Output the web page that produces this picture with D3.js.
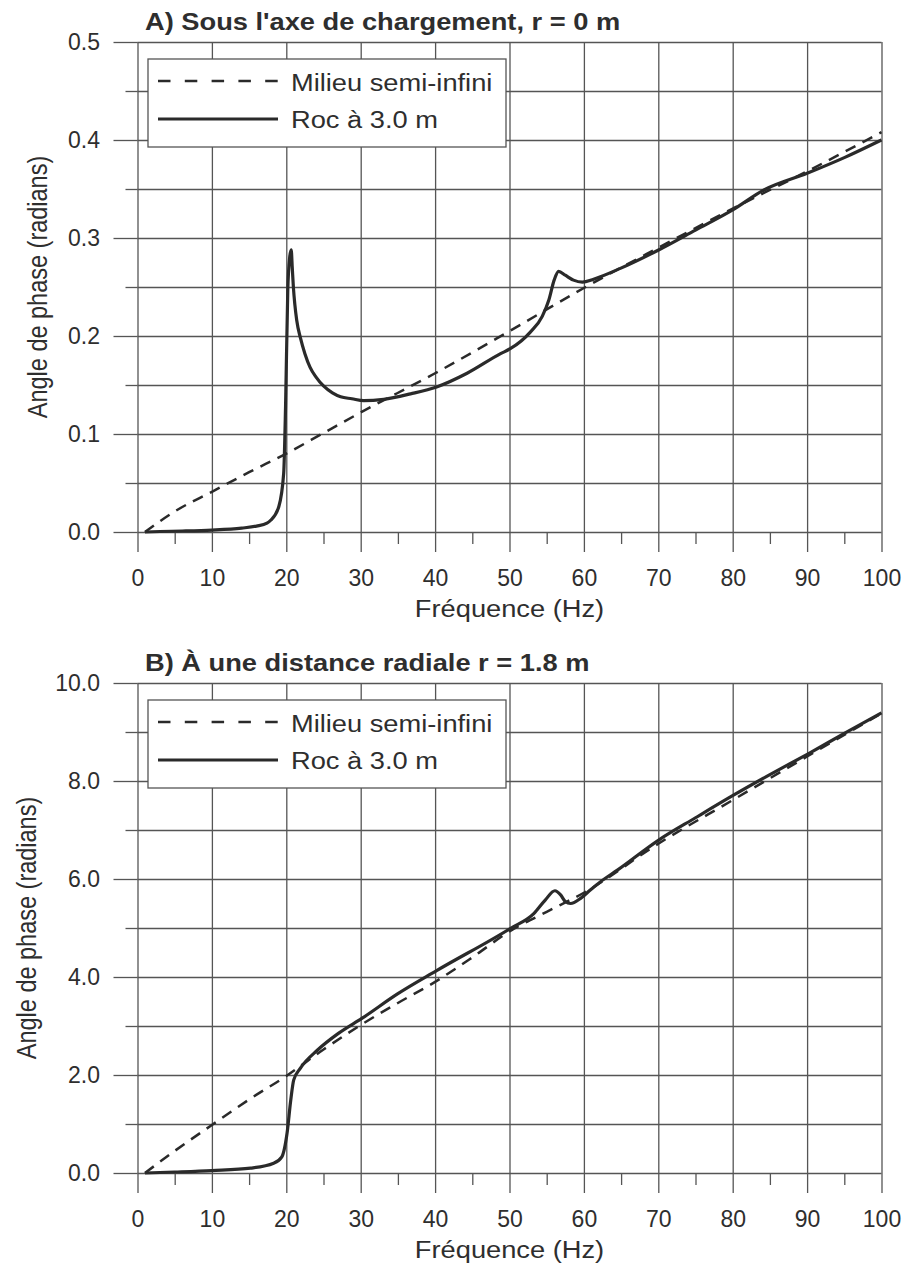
<!DOCTYPE html>
<html>
<head>
<meta charset="utf-8">
<script src="https://cdn.jsdelivr.net/npm/d3@7"></script>
<style>
  html, body { margin: 0; padding: 0; background: #fff; }
  svg { display: block; }
  text { font-family: "Liberation Sans", Arial, Helvetica, sans-serif; }
</style>
</head>
<body>
<svg id="chart" width="904" height="1265"></svg>
<script>
// ---- Frequency axis (Hz) ----
const freqTicks = [0, 10, 20, 30, 40, 50, 60, 70, 80, 90, 100];
const freqMinorTicks = [5, 15, 25, 35, 45, 55, 65, 75, 85, 95];
const freqLabel = "Fréquence (Hz)";
const phaseLabel = "Angle de phase (radians)";
const seriesNames = ["Milieu semi-infini", "Roc à 3.0 m"];

// ---- Panel A : under the loading axis, r = 0 m ----
const titleA = "A) Sous l'axe de chargement, r = 0 m";
const phaseTicksA = [0, 0.1, 0.2, 0.3, 0.4, 0.5];
const phaseMinorTicksA = [0.05, 0.15, 0.25, 0.35, 0.45];
const freqA_semi = [1, 5, 10, 15, 20, 25, 30, 40, 50, 60, 70, 80, 90, 100];
const phaseA_semi = [0, 0.021, 0.041, 0.061, 0.08, 0.101, 0.122, 0.162, 0.205, 0.249, 0.29, 0.33, 0.368, 0.408];
const freqA_roc = [1, 3, 6, 10, 14, 16, 17.4, 17.9, 19.0, 19.65, 19.9, 20.2, 20.45, 20.66, 20.8, 20.95,
  21.15, 21.4, 21.9, 22.5, 23.2, 24.0, 25.0, 26.2, 27.3, 28.8, 30.4, 33.1, 36.7, 40.2, 44.3, 48.8, 50.1,
  52.8, 54.4, 55.3, 56.0, 56.6, 57.5, 58.6, 59.8, 61.3, 64.9, 70.1, 75, 80, 84.2, 90, 95, 100];
const phaseA_roc = [0, 0.0005, 0.001, 0.002, 0.004, 0.006, 0.009, 0.012, 0.026, 0.06, 0.128, 0.247, 0.28, 0.288, 0.27, 0.25,
  0.232, 0.216, 0.198, 0.182, 0.168, 0.158, 0.149, 0.142, 0.138, 0.136, 0.134, 0.1354, 0.141, 0.148, 0.162, 0.182, 0.187,
  0.204, 0.22, 0.237, 0.257, 0.266, 0.262, 0.257, 0.255, 0.258, 0.269, 0.288, 0.308, 0.3286, 0.349, 0.366, 0.382, 0.4];

// ---- Panel B : at a radial distance r = 1.8 m ----
const titleB = "B) À une distance radiale r = 1.8 m";
const phaseTicksB = [0, 2, 4, 6, 8, 10];
const phaseMinorTicksB = [1, 3, 5, 7, 9];
const freqB_semi = [1, 5, 10, 15, 20, 25, 30, 35, 40, 45, 50, 55, 60, 70, 80, 90, 100];
const phaseB_semi = [0, 0.45, 0.98, 1.5, 1.98, 2.52, 3.02, 3.47, 3.9, 4.4, 4.93, 5.33, 5.72, 6.72, 7.61, 8.5, 9.38];
const freqB_roc = [1, 5, 10, 15.2, 18.3, 19.4, 20.1, 20.6, 21.0, 21.9, 24.2, 27, 30.2, 35, 40.2, 50.1,
  53.3, 54.8, 56.1, 56.9, 57.5, 58.2, 59.6, 60.9, 62.2, 64.5, 70.1, 75, 80.1, 85, 90.2, 95, 100];
const phaseB_roc = [0, 0.02, 0.05, 0.1, 0.2, 0.33, 0.81, 1.49, 1.9, 2.14, 2.51, 2.85, 3.16, 3.66, 4.13, 4.99,
  5.3, 5.57, 5.76, 5.67, 5.54, 5.5, 5.61, 5.78, 5.94, 6.18, 6.8, 7.25, 7.71, 8.13, 8.56, 8.97, 9.39];

// ---- Styling ----
const gridColor = "#555";
const inkColor = "#2a2a2a";
const textColor = "#2e2e2e";
const fontSize = 23.5;
const tickFontSize = 23;
const WIDE = 1.16;          // horizontal stretch of the lettering

const svg = d3.select("#chart");
const x = d3.scaleLinear([0, 100], [137.5, 881.5]);
const [xL, xR] = x.range();

// Text helper: horizontally widened lettering anchored at (px, py)
function label(g, str, px, py, opts = {}) {
  return g.append("text")
    .attr("transform", `translate(${px},${py}) scale(${WIDE},1)` + (opts.rotate ? ` rotate(${opts.rotate})` : ""))
    .attr("font-size", opts.size || fontSize)
    .attr("font-weight", opts.bold ? "bold" : "normal")
    .attr("text-anchor", opts.anchor || "start")
    .attr("fill", textColor)
    .text(str);
}

function styleAxis(sel) {
  sel.select(".domain").remove();
  sel.attr("color", gridColor)
     .attr("font-family", null)
     .attr("font-size", tickFontSize);
  sel.selectAll("line").attr("stroke-width", 1.3);
  sel.selectAll("text").attr("fill", textColor);
}

function drawPanel(p) {
  const y = d3.scaleLinear(p.domain, [p.bottom, p.top]);
  const g = svg.append("g");
  const h = p.bottom - p.top;
  const fmt = d3.format(".1f");

  // horizontal grid at every major and minor step
  g.append("g")
    .attr("transform", `translate(${xL},0)`)
    .call(d3.axisLeft(y).tickValues(p.ticks.concat(p.minor)).tickSizeInner(-(xR - xL)).tickSizeOuter(0).tickFormat(""))
    .call(styleAxis);
  // vertical grid every 10 Hz
  g.append("g")
    .attr("transform", `translate(0,${p.bottom})`)
    .call(d3.axisBottom(x).tickValues(freqTicks).tickSizeInner(-h).tickSizeOuter(0).tickFormat(""))
    .call(styleAxis);

  // left ticks and labels
  g.append("g")
    .attr("transform", `translate(${xL},0)`)
    .call(d3.axisLeft(y).tickValues(p.minor).tickSize(12).tickFormat(""))
    .call(styleAxis);
  g.append("g")
    .attr("transform", `translate(${xL},0)`)
    .call(d3.axisLeft(y).tickValues(p.ticks).tickSize(24).tickPadding(13.5).tickFormat(fmt))
    .call(styleAxis);

  // bottom ticks and labels
  g.append("g")
    .attr("transform", `translate(0,${p.bottom})`)
    .call(d3.axisBottom(x).tickValues(freqMinorTicks).tickSize(12).tickFormat(""))
    .call(styleAxis);
  g.append("g")
    .attr("transform", `translate(0,${p.bottom})`)
    .call(d3.axisBottom(x).tickValues(freqTicks).tickSize(20).tickPadding(17.5).tickFormat(d3.format("d")))
    .call(styleAxis);

  // curves
  const line = d3.line().x(d => x(d[0])).y(d => y(d[1])).curve(d3.curveMonotoneX);
  g.append("path")
    .datum(d3.zip(p.semiF, p.semiV))
    .attr("d", line)
    .attr("fill", "none")
    .attr("stroke", inkColor)
    .attr("stroke-width", 2.5)
    .attr("stroke-dasharray", "11,8");
  g.append("path")
    .datum(d3.zip(p.rocF, p.rocV))
    .attr("d", line)
    .attr("fill", "none")
    .attr("stroke", inkColor)
    .attr("stroke-width", 3.2)
    .attr("stroke-linejoin", "round");

  // legend
  const lg = g.append("g").attr("transform", `translate(148,${p.top + 17})`);
  lg.append("rect")
    .attr("x", 0).attr("y", 0).attr("width", 358).attr("height", 88)
    .attr("fill", "#fff").attr("stroke", gridColor).attr("stroke-width", 1.3);
  lg.append("line")
    .attr("x1", 10).attr("x2", 130).attr("y1", 22).attr("y2", 22)
    .attr("stroke", inkColor).attr("stroke-width", 2.5).attr("stroke-dasharray", "12.5,14.3");
  lg.append("line")
    .attr("x1", 10).attr("x2", 130).attr("y1", 60).attr("y2", 60)
    .attr("stroke", inkColor).attr("stroke-width", 3.2);
  label(lg, seriesNames[0], 143, 31.5);
  label(lg, seriesNames[1], 143, 68.7);

  // titles
  label(g, p.title, 145, p.top - 12, { bold: true });
  label(g, freqLabel, (xL + xR) / 2, p.bottom + 84.5, { anchor: "middle" });
  label(g, phaseLabel, p.yTitleX, (p.top + p.bottom) / 2, { anchor: "middle", rotate: -90 });
}

drawPanel({
  title: titleA, top: 42, bottom: 532, domain: [0, 0.5],
  ticks: phaseTicksA, minor: phaseMinorTicksA, yTitleX: 47,
  semiF: freqA_semi, semiV: phaseA_semi, rocF: freqA_roc, rocV: phaseA_roc
});
drawPanel({
  title: titleB, top: 683, bottom: 1173, domain: [0, 10],
  ticks: phaseTicksB, minor: phaseMinorTicksB, yTitleX: 36,
  semiF: freqB_semi, semiV: phaseB_semi, rocF: freqB_roc, rocV: phaseB_roc
});
</script>
</body>
</html>
